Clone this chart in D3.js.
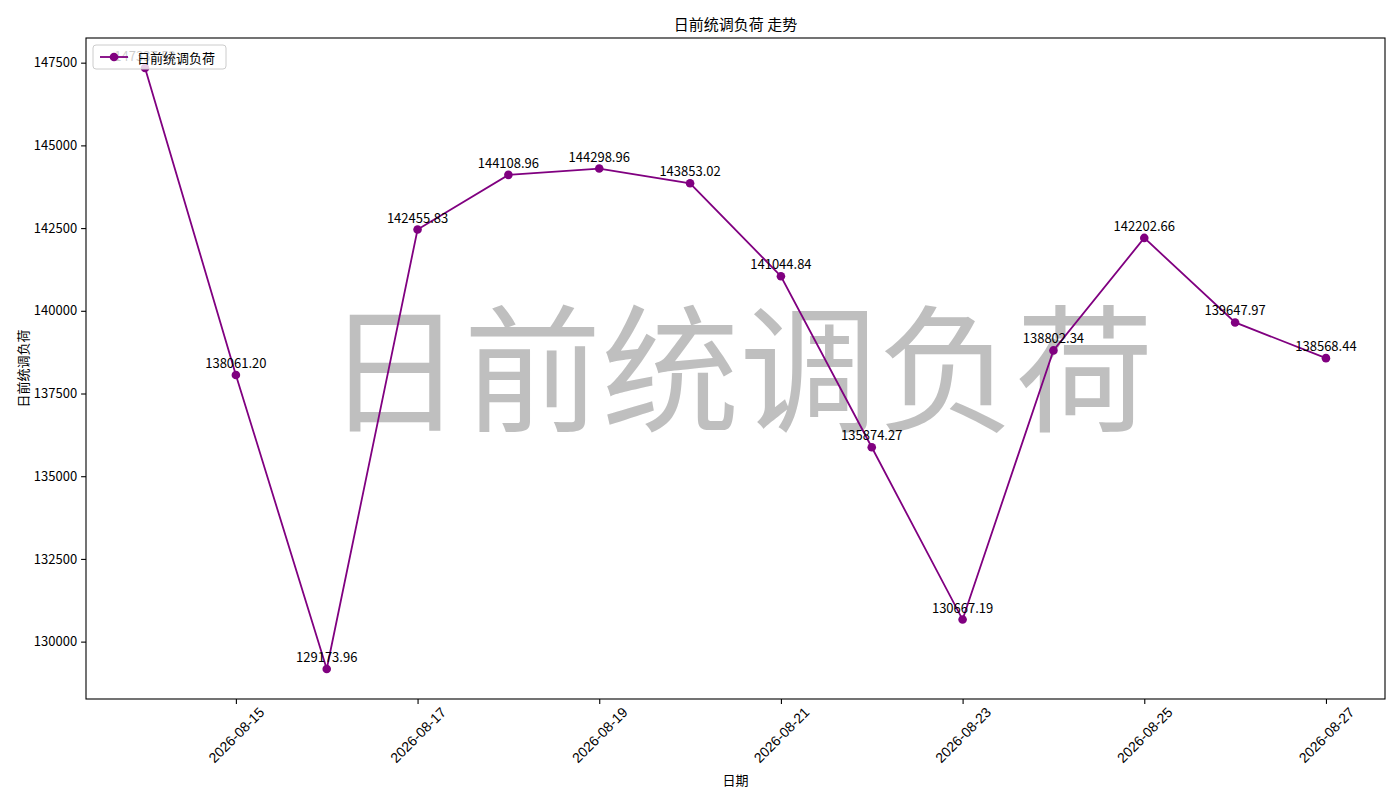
<!DOCTYPE html>
<html>
<head>
<meta charset="utf-8">
<script src="https://cdn.jsdelivr.net/npm/d3@7"></script>
<style>
  body { margin: 0; background: #fff; }
  svg { font-family: "Noto Sans CJK SC", "DejaVu Sans", sans-serif; }
</style>
</head>
<body>
<svg id="chart" width="1400" height="800"></svg>
<script>
// data
const dates = ["2026-08-14", "2026-08-15", "2026-08-16", "2026-08-17", "2026-08-18", "2026-08-19", "2026-08-20",
               "2026-08-21", "2026-08-22", "2026-08-23", "2026-08-24", "2026-08-25", "2026-08-26", "2026-08-27"];
const loads = [147337.52, 138061.20, 129173.96, 142455.83, 144108.96, 144298.96, 143853.02,
               141044.84, 135874.27, 130667.19, 138802.34, 142202.66, 139647.97, 138568.44];
const xTickDates = ["2026-08-15", "2026-08-17", "2026-08-19", "2026-08-21", "2026-08-23", "2026-08-25", "2026-08-27"];
const yTicks = [130000, 132500, 135000, 137500, 140000, 142500, 145000, 147500];
const seriesName = "日前统调负荷";
const chartTitle = "日前统调负荷 走势";

const margin = { top: 38, right: 15, bottom: 101, left: 86 },
      width = 1400 - margin.left - margin.right,
      height = 800 - margin.top - margin.bottom;

const parse = d3.utcParse("%Y-%m-%d");
const data = dates.map((d, i) => ({ date: parse(d), value: loads[i] }));

const svg = d3.select("#chart");
const g = svg.append("g")
    .attr("transform", `translate(${margin.left},${margin.top})`);

// matplotlib style 5% margins
const xExt = d3.extent(data, d => d.date);
const xPad = (xExt[1] - xExt[0]) * 0.05;
const x = d3.scaleUtc()
  .domain([new Date(+xExt[0] - xPad), new Date(+xExt[1] + xPad)])
  .range([0, width]);

const yExt = d3.extent(loads);
const yPad = (yExt[1] - yExt[0]) * 0.05;
const y = d3.scaleLinear()
  .domain([yExt[0] - yPad, yExt[1] + yPad])
  .range([height, 0]);

// watermark behind everything
g.append("text")
  .attr("x", width / 2 + 4)
  .attr("y", height / 2 - 8)
  .attr("text-anchor", "middle")
  .attr("dominant-baseline", "central")
  .attr("font-size", 138)
  .attr("fill", "gray")
  .attr("fill-opacity", 0.5)
  .text(seriesName);

// x axis
const xAxis = g.append("g")
  .attr("transform", `translate(0,${height})`)
  .call(d3.axisBottom(x).tickValues(xTickDates.map(parse)).tickSize(4.9).tickPadding(0).tickFormat(() => ""));
xAxis.select(".domain").remove();
xAxis.selectAll(".tick line").attr("stroke", "#000").attr("stroke-width", 1.1);
xAxis.selectAll(".tick").append("text")
  .attr("transform", "translate(0,36) rotate(-45)")
  .attr("text-anchor", "middle")
  .attr("dominant-baseline", "central")
  .attr("fill", "#000")
  .attr("font-size", 14)
  .text(d => d3.utcFormat("%Y-%m-%d")(d));

// y axis
const yAxis = g.append("g")
  .call(d3.axisLeft(y).tickValues(yTicks).tickSize(4.9).tickPadding(4).tickFormat(d3.format("d")));
yAxis.select(".domain").remove();
yAxis.selectAll(".tick line").attr("stroke", "#000").attr("stroke-width", 1.1);
yAxis.selectAll(".tick text")
  .attr("font-size", 13)
  .attr("fill", "#000")
  .attr("font-family", "Noto Sans CJK SC, sans-serif");

// frame
g.append("rect")
  .attr("width", width)
  .attr("height", height)
  .attr("fill", "none")
  .attr("stroke", "#000")
  .attr("stroke-width", 1.1);

// line + markers
const line = d3.line().x(d => x(d.date)).y(d => y(d.value));
g.append("path")
  .datum(data)
  .attr("fill", "none")
  .attr("stroke", "purple")
  .attr("stroke-width", 1.8)
  .attr("d", line);

g.selectAll(".dot")
  .data(data)
  .join("circle")
    .attr("class", "dot")
    .attr("cx", d => x(d.date))
    .attr("cy", d => y(d.value))
    .attr("r", 4.3)
    .attr("fill", "purple");

// value labels
g.selectAll(".lbl")
  .data(data)
  .join("text")
    .attr("class", "lbl")
    .attr("x", d => x(d.date))
    .attr("y", d => y(d.value) - 7)
    .attr("text-anchor", "middle")
    .attr("font-size", 13)
    .attr("fill", "#000")
    .text(d => d.value.toFixed(2));

// legend
const legend = g.append("g").attr("transform", "translate(7,7)");
legend.append("rect")
  .attr("width", 133)
  .attr("height", 24)
  .attr("rx", 3)
  .attr("fill", "#fff")
  .attr("fill-opacity", 0.8)
  .attr("stroke", "#ccc")
  .attr("stroke-width", 1);
legend.append("line")
  .attr("x1", 7).attr("x2", 35)
  .attr("y1", 12).attr("y2", 12)
  .attr("stroke", "purple")
  .attr("stroke-width", 1.8);
legend.append("circle")
  .attr("cx", 21).attr("cy", 12).attr("r", 4.3)
  .attr("fill", "purple");
legend.append("text")
  .attr("x", 44)
  .attr("y", 12)
  .attr("dominant-baseline", "central")
  .attr("font-size", 13)
  .attr("fill", "#000")
  .text(seriesName);

// title and axis titles
svg.append("text")
  .attr("x", margin.left + width / 2)
  .attr("y", 23)
  .attr("text-anchor", "middle")
  .attr("dominant-baseline", "central")
  .attr("font-size", 15)
  .text(chartTitle);

svg.append("text")
  .attr("x", margin.left + width / 2)
  .attr("y", 779)
  .attr("text-anchor", "middle")
  .attr("dominant-baseline", "central")
  .attr("font-size", 13)
  .text("日期");

svg.append("text")
  .attr("transform", `translate(22,${margin.top + height / 2}) rotate(-90)`)
  .attr("text-anchor", "middle")
  .attr("dominant-baseline", "central")
  .attr("font-size", 13)
  .text(seriesName);
</script>
</body>
</html>
